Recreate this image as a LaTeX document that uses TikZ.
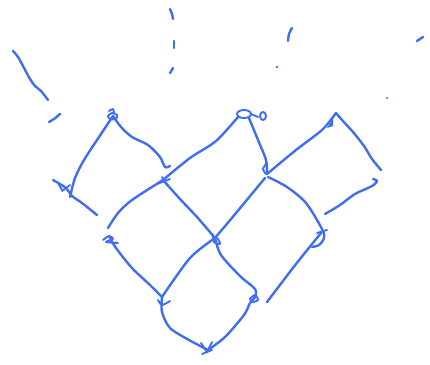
\documentclass[tikz,border=0pt]{standalone}
\definecolor{ink}{RGB}{64,110,242}
\begin{document}
\begin{tikzpicture}[x=1pt,y=-1pt,
  pen/.style={draw=ink,line width=2.4pt,line cap=round,line join=round},
  thin pen/.style={pen,line width=1.9pt}]
\useasboundingbox (0,0) rectangle (430,364);
% node positions
\coordinate (n1) at (113,116);
\coordinate (n2) at (244,114);
\coordinate (n3) at (336,113);
\coordinate (m1) at (66,188);
\coordinate (m2) at (163,180);
\coordinate (m3) at (267,174);
\coordinate (r1) at (109,236);
\coordinate (r2) at (215,238);
\coordinate (r3) at (321,233);
\coordinate (s1) at (162,297);
\coordinate (s2) at (255,297);
\coordinate (b) at (208,350);
% stray strokes at top
\draw[pen] plot[smooth] coordinates {(13,51) (18,57) (23,66) (30,79) (35,86) (41,91) (48,100)};
\draw[pen] plot[smooth] coordinates {(49,122) (54,119) (60,114)};
\draw[pen] plot[smooth] coordinates {(170,9) (172,14) (173,19)};
\draw[pen] (174,41) -- (174,48);
\draw[pen] (170,73) -- (173,68);
\draw[pen] plot[smooth] coordinates {(292,28) (289,34) (288,41)};
\fill[ink] (277,67) circle (1.3);
\draw[pen] (417,41) -- (423,37);
\fill[ink] (387,98) circle (1.2);
% connectors
\draw[pen] plot[smooth] coordinates {(n1) (97,140) (84,160) (75,178) (70,197)};
\draw[pen] plot[smooth] coordinates {(53,180) (m1) (72,196) (82,203) (97,215)};
\draw[pen] plot[smooth] coordinates {(n1) (121,127) (132,137) (148,145) (160,157) (165,167) (170,166)};
\draw[pen] plot[smooth] coordinates {(m2) (190,158) (216,141) (238,117)};
\draw[pen] plot[smooth] coordinates {(249,118) (258,140) (266,160) (m3)};
\draw[pen] plot[smooth] coordinates {(m3) (296,150) (322,130) (333,117) (n3)};
\draw[pen] plot[smooth] coordinates {(n3) (342,120) (353,132) (364,146) (372,159) (381,170)};
\draw[pen] plot[smooth] coordinates {(373,179) (377,181) (372,186) (355,194) (340,205) (325,214)};
\draw[pen] plot[smooth] coordinates {(m2) (180,199) (197,217) (r2)};
\draw[pen] plot[smooth] coordinates {(m2) (132,200) (118,213) (108,228)};
\draw[pen] plot[smooth] coordinates {(r2) (236,213) (265,178)};
\draw[pen] plot[smooth] coordinates {(268,177) (287,187) (306,203) (322,229) (324,238) (319,245) (312,247)};
\draw[pen] plot[smooth] coordinates {(r3) (296,264) (267,302)};
\draw[pen] plot[smooth] coordinates {(r1) (116,248) (132,268) (150,285) (s1)};
\draw[pen] plot[smooth] coordinates {(s1) (190,258) (r2)};
\draw[pen] plot[smooth] coordinates {(r2) (221,255) (240,276) (255,289) (s2) (250,303) (244,315) (225,337) (b)};
\draw[pen] plot[smooth] coordinates {(s1) (162,312) (170,328) (189,340) (b)};
% node marks
\draw[thin pen] plot[smooth cycle] coordinates {(108,116) (112,113) (117,115) (116,119) (110,119)};
\draw[thin pen] plot[smooth] coordinates {(109,111) (113,109) (114,113)};
\draw[thin pen] (n2) ellipse (7 and 4);
\draw[thin pen] (251,114) -- (258,117);
\draw[thin pen] (263,116) ellipse (3 and 4);
\fill[ink] (327,128) -- (333,118) -- (333,126) -- cycle;
\draw[thin pen] (58,183) -- (62,190);
\draw[thin pen] (62,191) -- (70,185);
\draw[thin pen] (157,184) -- (170,179);
\draw[thin pen] (162,177) -- (168,186);
\draw[thin pen] plot[smooth] coordinates {(266,164) (263,169) (266,174)};
\draw[thin pen] plot[smooth] coordinates {(103,240) (109,236) (113,239) (106,242) (118,243)};
\draw[thin pen] plot[smooth] coordinates {(213,235) (214,242) (220,244) (218,239) (215,238)};
\draw[thin pen] (317,233) -- (327,230);
\draw[thin pen] plot[smooth] coordinates {(158,300) (162,305) (170,301)};
\draw[thin pen] plot[smooth cycle] coordinates {(250,299) (255,295) (258,300) (253,302)};
\draw[thin pen] (201,343) -- (207,352) -- (212,342);
\draw[thin pen] (202,354) -- (212,350);
\end{tikzpicture}
\end{document}
